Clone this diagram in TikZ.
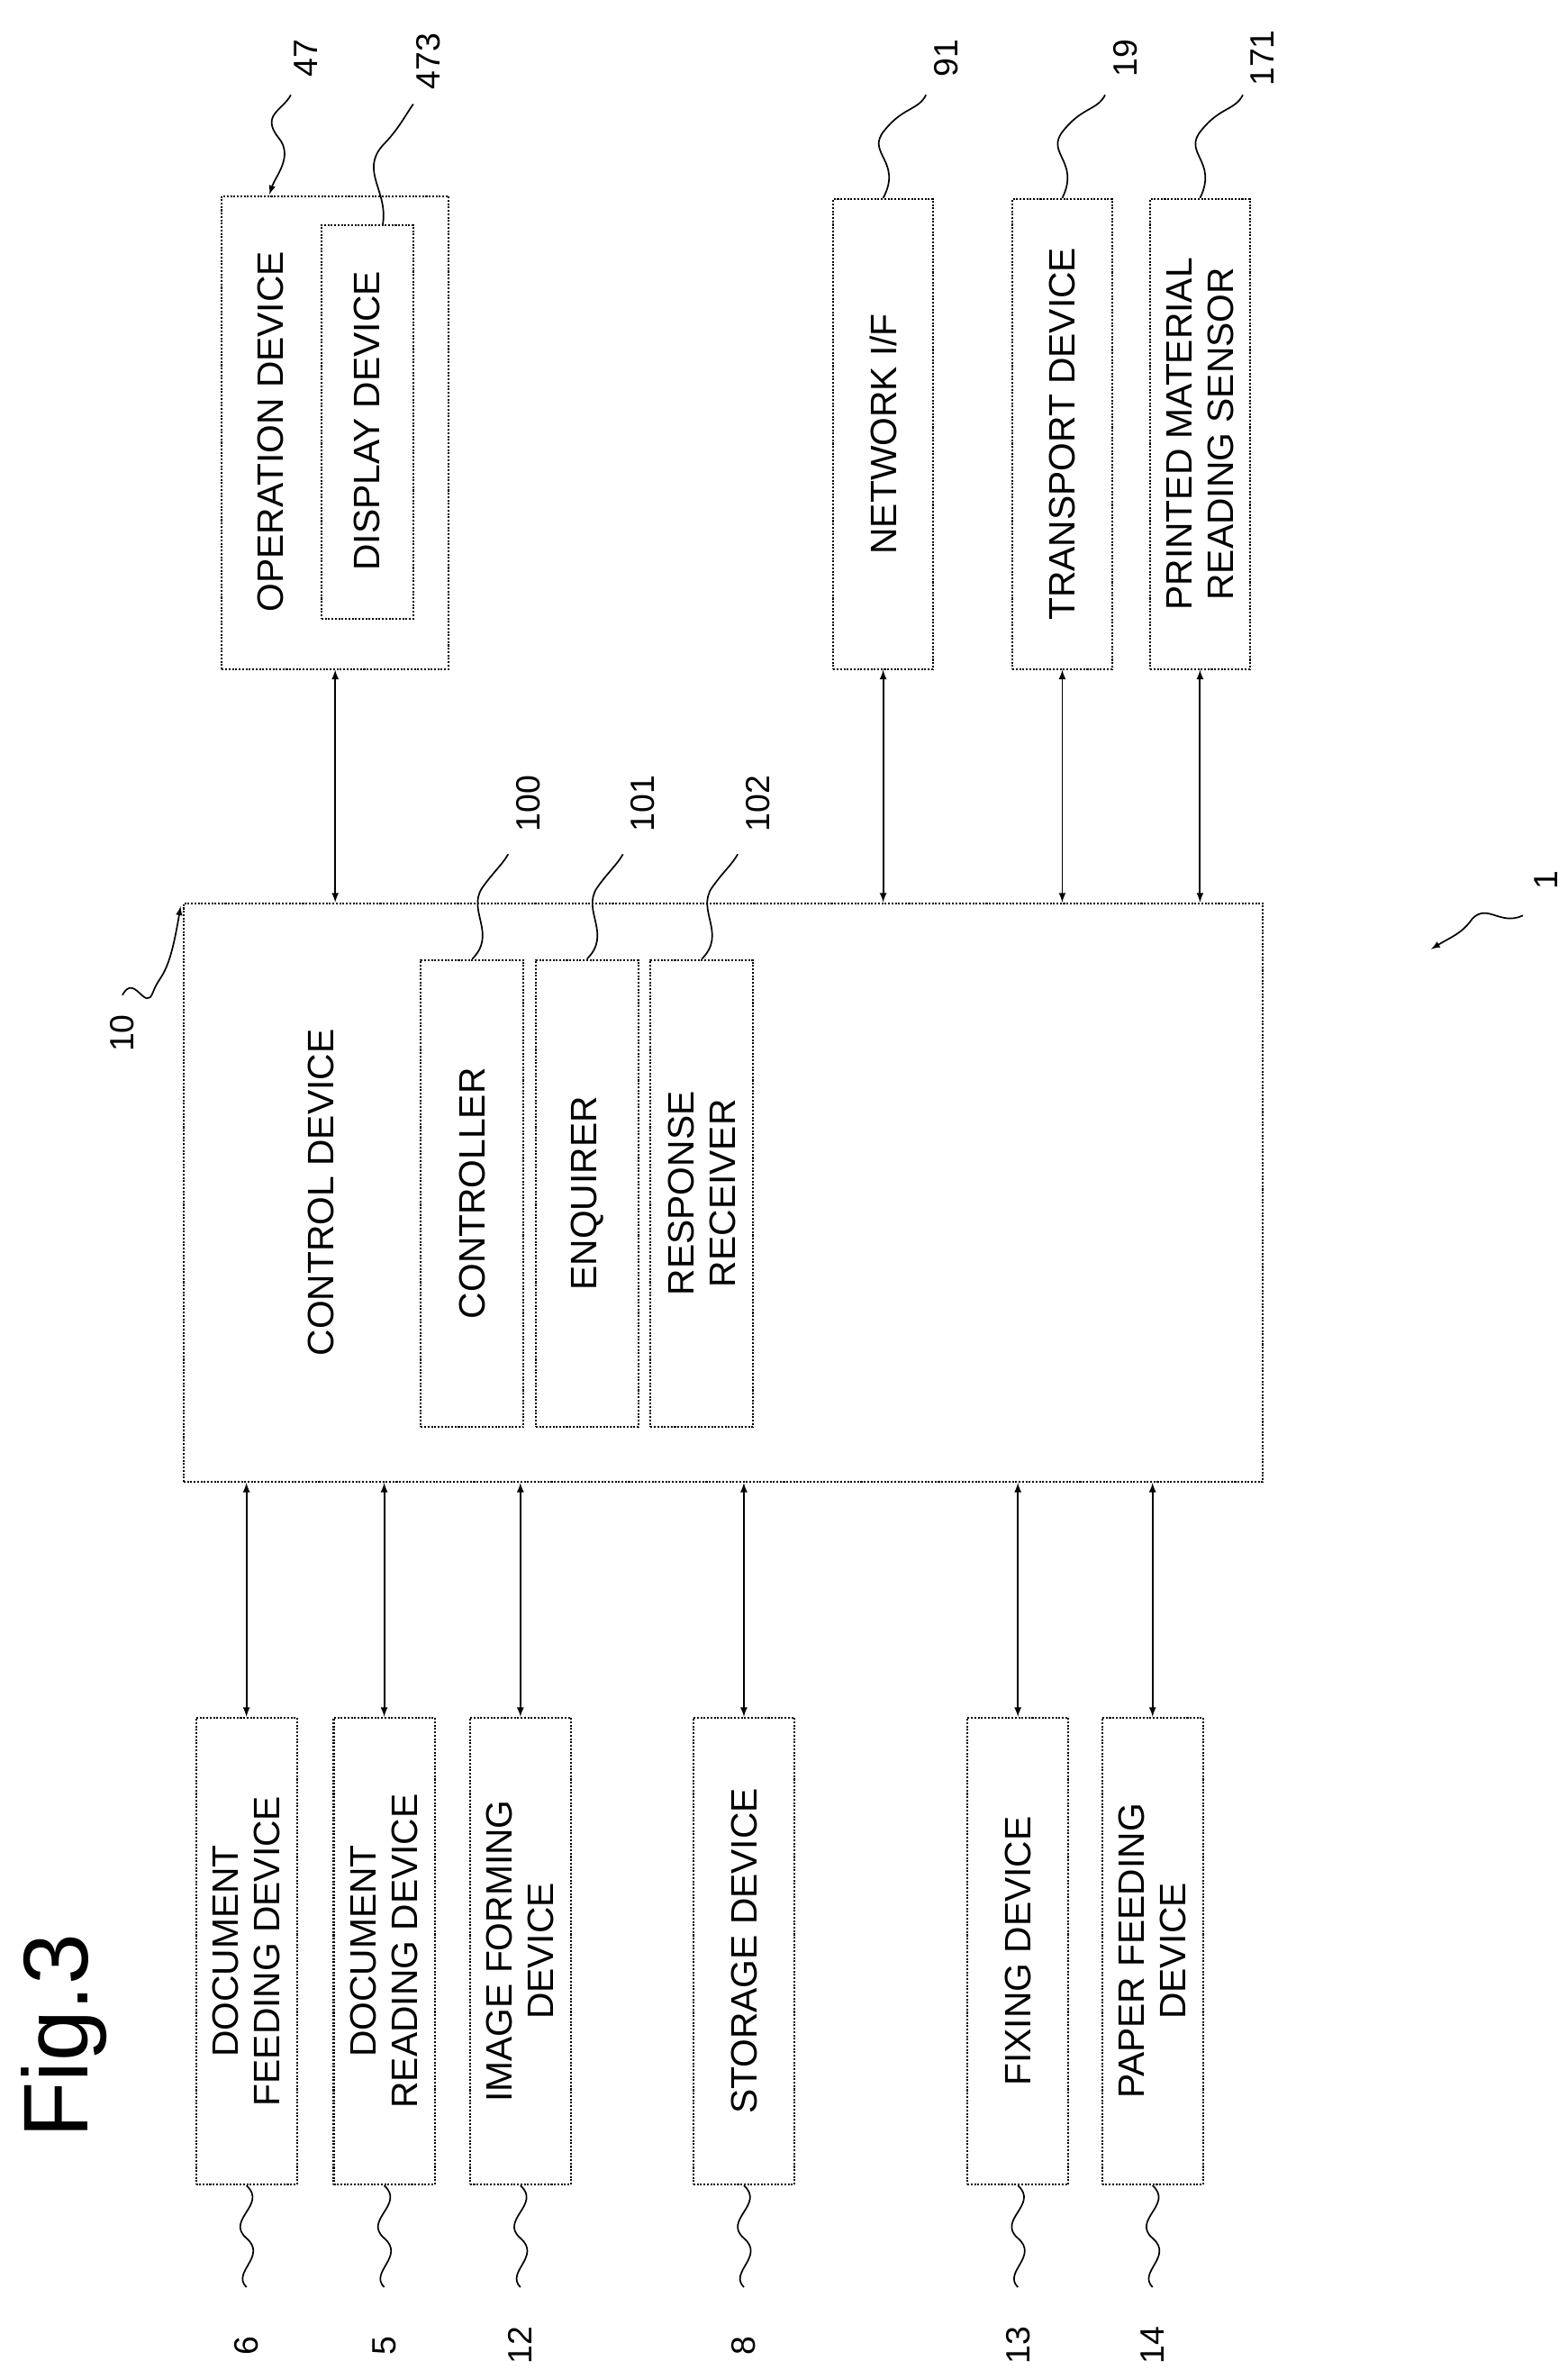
\documentclass[tikz,border=0pt]{standalone}
\usepackage{fontspec}
\setmainfont{Liberation Sans}
\begin{document}
\begin{tikzpicture}[x=1pt,y=-1pt,
 box/.style={draw,line width=1.2pt,densely dotted,inner sep=0pt},
 lbl/.style={rotate=90,font=\fontsize{24}{27}\selectfont,align=center},
 num/.style={rotate=90,font=\fontsize{22}{24}\selectfont},
 arr/.style={line width=1.1pt,<->,>=latex},
 lead/.style={line width=1pt}]
\useasboundingbox (0,0) rectangle (1024,1554);
\node[rotate=90,font=\fontsize{60}{66}\selectfont] (fig) at (42,1330) {Fig.3};
% top boxes
\node[box,minimum height=309pt,minimum width=148pt] (op) at (219,282.5) {};
\node[box,minimum height=257pt,minimum width=60pt] (disp) at (240,275.5) {};
\node[lbl] (opt) at (177,282) {OPERATION DEVICE};
\node[lbl] (dispt) at (240,275) {DISPLAY DEVICE};
\node[box,minimum height=307pt,minimum width=65pt] (net) at (577,283.5) {};
\node[lbl] (nett) at (577,283.5) {NETWORK I/F};
\node[box,minimum height=307pt,minimum width=65pt] (tr) at (694,283.5) {};
\node[lbl] (trt) at (694,283.5) {TRANSPORT DEVICE};
\node[box,minimum height=307pt,minimum width=65pt] (pm) at (784,283.5) {};
\node[lbl] (pmt) at (784,283.5) {PRINTED MATERIAL\\READING SENSOR};
% control
\node[box,minimum height=378pt,minimum width=705pt] (cd) at (472.5,779) {};
\node[lbl] (cdt) at (210,779) {CONTROL DEVICE};
\node[box,minimum height=305pt,minimum width=67pt] (c0) at (308.5,779.5) {};
\node[lbl] (c0t) at (308.5,779.5) {CONTROLLER};
\node[box,minimum height=305pt,minimum width=67pt] (c1) at (383.5,779.5) {};
\node[lbl] (c1t) at (383.5,779.5) {ENQUIRER};
\node[box,minimum height=305pt,minimum width=67pt] (c2) at (458.5,779.5) {};
\node[lbl] (c2t) at (458.5,779.5) {RESPONSE\\RECEIVER};
% bottom
\foreach \n/\x/\t in {b6/161/{DOCUMENT\\FEEDING DEVICE},b5/251/{DOCUMENT\\READING DEVICE},b12/340/{IMAGE FORMING\\DEVICE},b8/486/{STORAGE DEVICE},b13/665/{FIXING DEVICE},b14/753/{PAPER FEEDING\\DEVICE}}{
 \node[box,minimum height=305pt,minimum width=66pt] (\n) at (\x,1274.5) {};
 \node[lbl] (\n t) at (\x,1274.5) {\t};}
% arrows
\draw[arr] (op.south) -- (op.south |- cd.north);
\draw[arr] (net.south) -- (net.south |- cd.north);
\draw[arr] (tr.south) -- (tr.south |- cd.north);
\draw[arr] (pm.south) -- (pm.south |- cd.north);
\foreach \n in {b6,b5,b12,b8,b13,b14}
 \draw[arr] (\n.north |- cd.south) -- (\n.north);
% bottom leaders
\foreach \n/\x/\t in {b6/161/6,b5/251/5,b12/340/12,b8/486/8,b13/665/13,b14/753/14}{
 \draw[lead] (\n.south) .. controls (\x+14,1440) and (\x-14,1450) .. (\x,1462) .. controls (\x+14,1474) and (\x-10,1484) .. (\x,1494);
 \node[num] at (\x,1532) {\t};}
% top leaders
\draw[lead] (net.north) .. controls (590,105) and (565,100) .. (578,85) .. controls (590,70) and (600,72) .. (605,62);
\node[num] at (618,38) {91};
\draw[lead] (tr.north) .. controls (706,105) and (682,100) .. (695,85) .. controls (707,70) and (717,72) .. (722,62);
\node[num] at (735,38) {19};
\draw[lead] (pm.north) .. controls (796,105) and (772,100) .. (785,85) .. controls (797,70) and (807,72) .. (812,62);
\node[num] at (825,38) {171};
\draw[lead,->,>=latex] (190,62) .. controls (185,72) and (170,75) .. (182,90) .. controls (192,102) and (180,115) .. (176,127);
\node[num] at (200,38) {47};
\draw[lead] (250,147) .. controls (254,125) and (235,112) .. (250,95) .. controls (260,85) and (265,75) .. (270,68);
\node[num] at (280,40) {473};
\draw[lead] (c0.north) .. controls (325,610) and (305,595) .. (315,580) .. controls (322,570) and (328,565) .. (332,558);
\node[num] at (345,525) {100};
\draw[lead] (c1.north) .. controls (400,610) and (380,595) .. (390,580) .. controls (397,570) and (403,565) .. (407,558);
\node[num] at (420,525) {101};
\draw[lead] (c2.north) .. controls (475,610) and (455,595) .. (465,580) .. controls (472,570) and (478,565) .. (482,558);
\node[num] at (495,525) {102};
\draw[lead,->,>=latex] (80,650) .. controls (88,635) and (95,662) .. (100,648) .. controls (105,635) and (110,640) .. (118,592);
\node[num] at (80,675) {10};
\draw[lead,->,>=latex] (995,598) .. controls (980,605) and (972,590) .. (962,600) .. controls (955,610) and (948,612) .. (935,620);
\node[num] at (1010,575) {1};
\end{tikzpicture}
\end{document}
